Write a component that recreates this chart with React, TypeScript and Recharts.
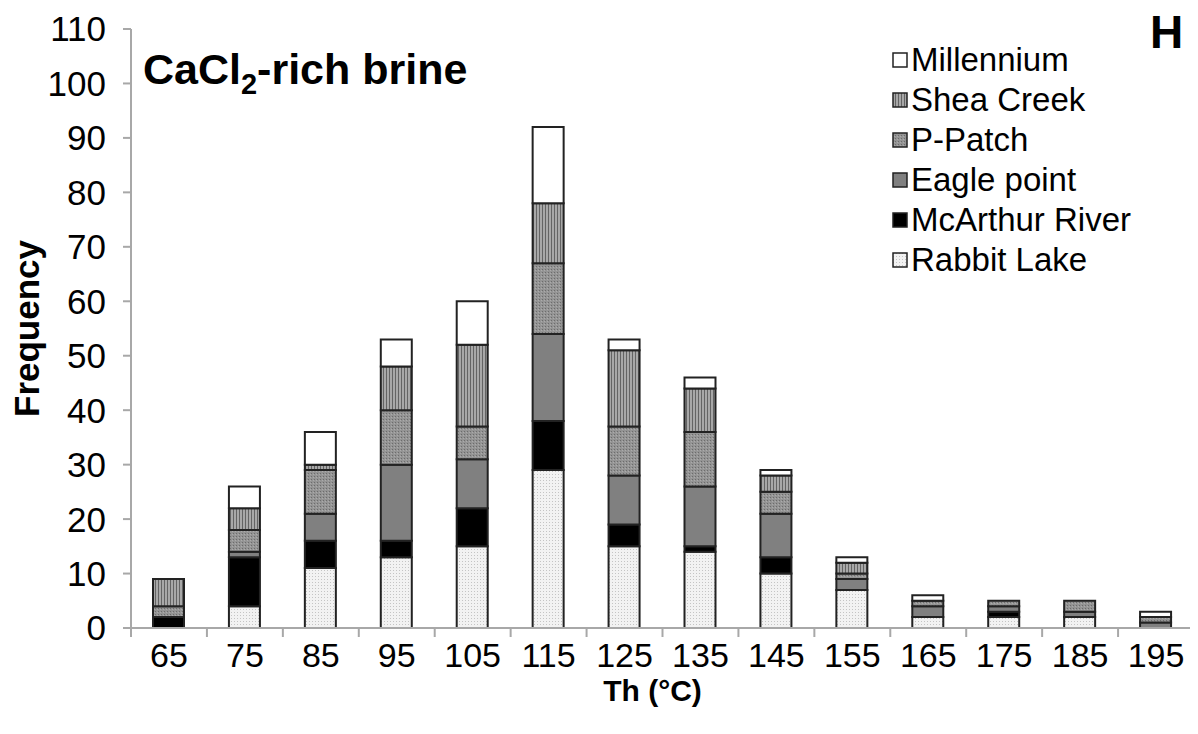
import React from 'react';
import { BarChart, Bar, XAxis, YAxis, Label } from 'recharts';

const categories = ['65', '75', '85', '95', '105', '115', '125', '135', '145', '155', '165', '175', '185', '195'];
const rabbitLake = [0, 4, 11, 13, 15, 29, 15, 14, 10, 7, 2, 2, 2, 0];
const mcArthurRiver = [2, 9, 5, 3, 7, 9, 4, 1, 3, 0, 0, 1, 0, 0];
const eaglePoint = [0, 1, 5, 14, 9, 16, 9, 11, 8, 2, 2, 1, 1, 1];
const pPatch = [2, 4, 8, 10, 6, 13, 9, 10, 4, 1, 1, 1, 2, 1];
const sheaCreek = [5, 4, 1, 8, 15, 11, 14, 8, 3, 2, 0, 0, 0, 0];
const millennium = [0, 4, 6, 5, 8, 14, 2, 2, 1, 1, 1, 0, 0, 1];
const yTicks = [0, 10, 20, 30, 40, 50, 60, 70, 80, 90, 100, 110];

const series = [
  { key: 'rabbit', name: 'Rabbit Lake', values: rabbitLake, fill: 'url(#patRabbit)' },
  { key: 'mcarthur', name: 'McArthur River', values: mcArthurRiver, fill: '#000000' },
  { key: 'eagle', name: 'Eagle point', values: eaglePoint, fill: '#808080' },
  { key: 'ppatch', name: 'P-Patch', values: pPatch, fill: 'url(#patPPatch)' },
  { key: 'shea', name: 'Shea Creek', values: sheaCreek, fill: 'url(#patShea)' },
  { key: 'mill', name: 'Millennium', values: millennium, fill: '#ffffff' },
];

const data = categories.map((c, i) => {
  const row: any = { cat: c };
  series.forEach((s) => { row[s.key] = s.values[i]; });
  return row;
});

const FONT = '"Liberation Sans", Arial, sans-serif';

const XTick = (props: any) => {
  const { x, y, payload, index } = props;
  const off = payload && payload.offset != null ? payload.offset : 0;
  return (
    <g>
      {index === 0 && <line x1={x - off} y1={y} x2={x - off} y2={y + 9} stroke="#a8a8a8" strokeWidth={2} />}
      <line x1={x + off} y1={y} x2={x + off} y2={y + 9} stroke="#a8a8a8" strokeWidth={2} />
      <text x={x} y={y + 39} textAnchor="middle" fontSize={34} fontFamily={FONT} fill="#000">{payload.value}</text>
    </g>
  );
};

export default function App() {
  return (
    <div style={{ position: 'relative', width: 1190, height: 726, background: '#fff' }}>
      <BarChart width={1190} height={726} data={data} margin={{ top: 21, right: 4, bottom: 6, left: 0 }} barSize={31}>
        <defs>
          <pattern id="patRabbit" width={3} height={3} patternUnits="userSpaceOnUse">
            <rect width={3} height={3} fill="#f2f2f2" />
            <rect x={1} y={1} width={1} height={1} fill="#c4c4c4" />
          </pattern>
          <pattern id="patPPatch" width={3} height={3} patternUnits="userSpaceOnUse">
            <rect width={3} height={3} fill="#949494" />
            <rect x={0} y={0} width={1} height={1} fill="#6c6c6c" />
            <rect x={2} y={1} width={1} height={1} fill="#ababab" />
          </pattern>
          <pattern id="patShea" width={3} height={4} patternUnits="userSpaceOnUse">
            <rect width={3} height={4} fill="#a8a8a8" />
            <rect x={0} y={0} width={1} height={4} fill="#646464" />
          </pattern>
        </defs>
        <XAxis
          dataKey="cat"
          interval={0}
          tickSize={0}
          tickMargin={0}
          tickLine={false}
          axisLine={{ stroke: '#a8a8a8', strokeWidth: 2 }}
          tick={<XTick />}
          height={100}
        >
          <Label
            content={(p: any) => {
              const vb = p.viewBox;
              return (
                <text x={vb.x + vb.width / 2 - 10} y={vb.y + 73} textAnchor="middle" fontSize={30} fontWeight="bold" fontFamily={FONT} fill="#000">
                  Th (°C)
                </text>
              );
            }}
          />
        </XAxis>
        <YAxis
          width={123}
          domain={[0, 110]}
          ticks={yTicks}
          interval={0}
          tickSize={8}
          tickMargin={17}
          tickLine={{ stroke: '#a8a8a8', strokeWidth: 2 }}
          axisLine={{ stroke: '#a8a8a8', strokeWidth: 2 }}
          tick={{ fontSize: 35, fontFamily: FONT, fill: '#000' }}
        >
          <Label
            content={(p: any) => {
              const vb = p.viewBox;
              const cx = vb.x + 31;
              const cy = vb.y + vb.height / 2;
              return (
                <text x={cx} y={cy} transform={`rotate(-90, ${cx}, ${cy})`} textAnchor="middle" fontSize={35} fontWeight="bold" fontFamily={FONT} fill="#000">
                  Frequency
                </text>
              );
            }}
          />
        </YAxis>
        {series.map((s) => (
          <Bar
            key={s.key}
            dataKey={s.key}
            name={s.name}
            stackId="a"
            fill={s.fill}
            stroke="#222"
            strokeWidth={2}
            isAnimationActive={false}
          />
        ))}
      </BarChart>
      <div style={{ position: 'absolute', left: 884, top: 32, fontFamily: FONT, fontSize: 33, lineHeight: '40px', color: '#000' }}>
        {[...series].reverse().map((s) => (
          <div key={s.key} style={{ display: 'flex', alignItems: 'center', whiteSpace: 'nowrap', height: 40 }}>
            <svg width={16} height={16} style={{ marginRight: 3 }}>
              <rect x={1} y={1} width={14} height={14} fill={s.fill} stroke="#222" strokeWidth={1.5} />
            </svg>
            <span>{s.name}</span>
          </div>
        ))}
      </div>
      <div style={{ position: 'absolute', left: 135, top: 37, fontFamily: FONT, fontWeight: 'bold', fontSize: 43, color: '#000', whiteSpace: 'nowrap' }}>
        CaCl<sub style={{ fontSize: 29, verticalAlign: 'sub', lineHeight: 0 }}>2</sub>-rich brine
      </div>
      <div style={{ position: 'absolute', left: 1142, top: -3, fontFamily: FONT, fontWeight: 'bold', fontSize: 46, color: '#000' }}>
        H
      </div>
    </div>
  );
}
